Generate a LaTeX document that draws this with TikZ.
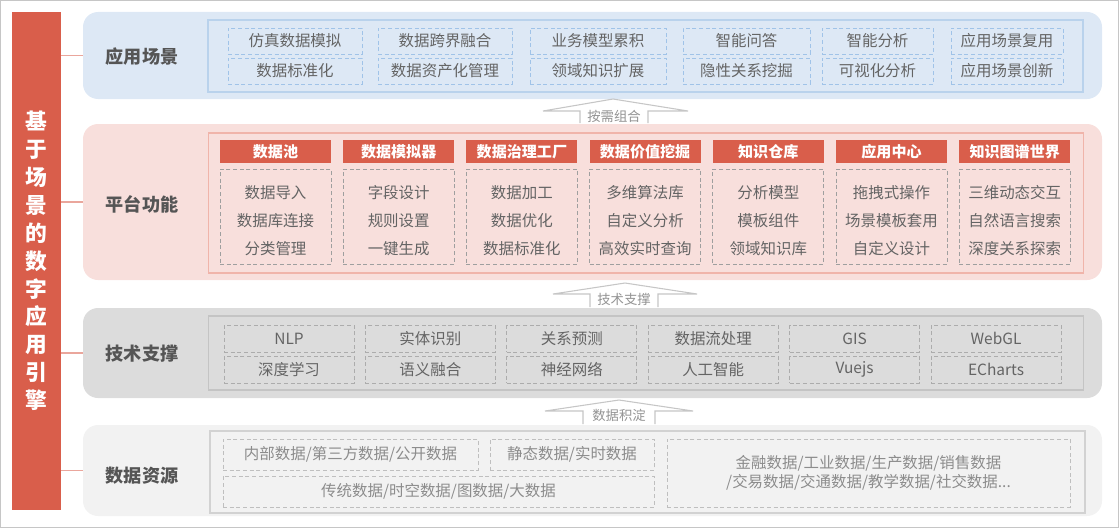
\documentclass[tikz,border=0pt]{standalone}
\usepackage{fontspec}
\setmainfont{Noto Sans CJK SC}
\usepackage{tikz}
\usetikzlibrary{calc}
\definecolor{eng}{RGB}{217,94,75}
\definecolor{appbg}{RGB}{221,232,245}
\definecolor{appln}{RGB}{185,210,236}
\definecolor{appdash}{RGB}{160,195,232}
\definecolor{platbg}{RGB}{248,223,220}
\definecolor{platln}{RGB}{240,180,170}
\definecolor{techbg}{RGB}{220,220,220}
\definecolor{techln}{RGB}{196,196,196}
\definecolor{databg}{RGB}{242,242,242}
\definecolor{dataln}{RGB}{210,210,210}
\definecolor{txt}{RGB}{100,100,100}
\definecolor{lbl}{RGB}{85,85,85}
\newlength{\upx}\setlength{\upx}{0.75pt}
\tikzset{
  bar/.style={rectangle,fill=eng,text=white,align=center,inner sep=0pt,
    minimum width=49\upx,minimum height=498\upx,
    font=\bfseries\fontsize{16.3}{20.9}\selectfont},
  layer/.style={rectangle,rounded corners=15\upx,minimum width=1019\upx,inner sep=0pt},
  inbox/.style={rectangle,draw,line width=1pt,minimum width=875\upx,inner sep=0pt},
  % dashed item cells
  cell/.style={rectangle,draw,dashed,dash pattern=on 3pt off 2pt,line width=0.6pt,
    inner sep=0pt,text=txt,align=center,font=\fontsize{11.6}{13}\selectfont},
  head/.style={rectangle,fill=eng,text=white,inner sep=0pt,
    minimum width=111\upx,minimum height=23\upx,
    font=\bfseries\fontsize{11.3}{13}\selectfont},
  tag/.style={text=lbl,font=\bfseries\fontsize{13.6}{15}\selectfont},
  tie/.style={draw=eng!55,line width=0.8pt},
  liftarrow/.style={draw=gray!45,fill=white,line width=0.8pt},
  liftlabel/.style={text=gray!85,inner sep=0pt,font=\fontsize{10}{11}\selectfont},
}
\begin{document}
\begin{tikzpicture}[x=0.75pt,y=-0.75pt]
\useasboundingbox (0,0) rectangle (1119,528);
\draw[draw=gray!45,line width=1pt] (0.7,0.7) rectangle (1118.3,527.3);

% engine bar
\node[bar] (bar) at (36.5,261) {基\\于\\场\\景\\的\\数\\字\\应\\用\\引\\擎};

% layer panels
\node[layer,fill=appbg,minimum height=87\upx] (app) at (592.5,55.5) {};
\node[layer,fill=platbg,minimum height=156\upx] (plat) at (592.5,202) {};
\node[layer,fill=techbg,minimum height=90\upx] (tech) at (592.5,353) {};
\node[layer,fill=databg,minimum height=91\upx] (data) at (592.5,470.5) {};

\draw[tie] (bar.east |- app.west) -- (app.west);
\draw[tie] (bar.east |- plat.west) -- (plat.west);
\draw[tie] (bar.east |- tech.west) -- (tech.west);
\draw[tie] (bar.east |- data.west) -- (data.west);

\node[tag] (appname) at (142,57) {应用场景};
\node[tag] (platname) at (142,204) {平台功能};
\node[tag] (techname) at (142,354) {技术支撑};
\node[tag] (dataname) at (142,476) {数据资源};

% application scenes
\node[inbox,draw=appln,minimum height=72\upx] (appin) at (645.5,56) {};
\tikzset{appcell/.style={cell,draw=appdash,minimum height=26\upx}}
\node[appcell,minimum width=134\upx] (s1) at (295,41) {仿真数据模拟};
\node[appcell,minimum width=134\upx] (s2) at (445,41) {数据跨界融合};
\node[appcell,minimum width=136\upx] (s3) at (598,41) {业务模型累积};
\node[appcell,minimum width=127\upx] (s4) at (746.5,41) {智能问答};
\node[appcell,minimum width=111\upx] (s5) at (877.5,41) {智能分析};
\node[appcell,minimum width=112\upx] (s6) at (1007,41) {应用场景复用};
\node[appcell,minimum width=134\upx] (s7) at (295,71) {数据标准化};
\node[appcell,minimum width=134\upx] (s8) at (445,71) {数据资产化管理};
\node[appcell,minimum width=136\upx] (s9) at (598,71) {领域知识扩展};
\node[appcell,minimum width=127\upx] (s10) at (746.5,71) {隐性关系挖掘};
\node[appcell,minimum width=111\upx] (s11) at (877.5,71) {可视化分析};
\node[appcell,minimum width=112\upx] (s12) at (1007,71) {应用场景创新};

% platform functions
\node[inbox,draw=platln,minimum height=140\upx] (platin) at (646,203) {};
\tikzset{platcell/.style={cell,draw=gray!75,minimum width=111\upx,minimum height=95\upx,
  font=\fontsize{11.6}{21}\selectfont}}
\newcommand{\lift}{\rule{0pt}{16pt}}
\node[head] (h1) at (275.5,151.5) {数据池};
\node[head] (h2) at (398.7,151.5) {数据模拟器};
\node[head] (h3) at (521.9,151.5) {数据治理工厂};
\node[head] (h4) at (645.1,151.5) {数据价值挖掘};
\node[head] (h5) at (768.3,151.5) {知识仓库};
\node[head] (h6) at (891.5,151.5) {应用中心};
\node[head] (h7) at (1014.7,151.5) {知识图谱世界};
\node[platcell] (f1) at (275.5,216.5) {\lift 数据导入\\数据库连接\\分类管理};
\node[platcell] (f2) at (398.7,216.5) {\lift 字段设计\\规则设置\\一键生成};
\node[platcell] (f3) at (521.9,216.5) {\lift 数据加工\\数据优化\\数据标准化};
\node[platcell] (f4) at (645.1,216.5) {\lift 多维算法库\\自定义分析\\高效实时查询};
\node[platcell] (f5) at (768.3,216.5) {\lift 分析模型\\模板组件\\领域知识库};
\node[platcell] (f6) at (891.5,216.5) {\lift 拖拽式操作\\场景模板套用\\自定义设计};
\node[platcell] (f7) at (1014.7,216.5) {\lift 三维动态交互\\自然语言搜索\\深度关系探索};

% technical support
\node[inbox,draw=techln,minimum height=74\upx] (techin) at (646,353) {};
\tikzset{techcell/.style={cell,draw=gray!65,minimum width=130\upx,minimum height=27\upx}}
\node[techcell] (t1) at (289,338.5) {NLP};
\node[techcell] (t2) at (430.4,338.5) {实体识别};
\node[techcell] (t3) at (571.8,338.5) {关系预测};
\node[techcell] (t4) at (713.2,338.5) {数据流处理};
\node[techcell] (t5) at (854.6,338.5) {GIS};
\node[techcell] (t6) at (996,338.5) {WebGL};
\node[techcell] (t7) at (289,369.5) {深度学习};
\node[techcell] (t8) at (430.4,369.5) {语义融合};
\node[techcell] (t9) at (571.8,369.5) {神经网络};
\node[techcell] (t10) at (713.2,369.5) {人工智能};
\node[techcell] (t11) at (854.6,369.5) {Vuejs};
\node[techcell] (t12) at (996,369.5) {ECharts};

% data resources
\node[inbox,draw=dataln,minimum height=82\upx] (datain) at (647.5,472) {};
\tikzset{datacell/.style={cell,draw=gray!50,text=gray!90,font=\fontsize{11.6}{14.3}\selectfont}}
\node[datacell,minimum width=255\upx,minimum height=31\upx] (d1) at (350.5,454.5) {内部数据/第三方数据/公开数据};
\node[datacell,minimum width=164\upx,minimum height=31\upx] (d2) at (572,454.5) {静态数据/实时数据};
\node[datacell,minimum width=431\upx,minimum height=31\upx] (d3) at (438.5,491.5) {传统数据/时空数据/图数据/大数据};
\node[datacell,minimum width=403\upx,minimum height=68\upx] (d4) at (868.5,473) {金融数据/工业数据/生产数据/销售数据\\/交易数据/交通数据/教学数据/社交数据...};

% lift arrows between layers
\draw[liftarrow] (580,123) -- (580,111) -- (543,111) -- (613,99) -- (688,111) -- (648,111) -- (648,123);
\node[liftlabel] (need) at (614,116) {按需组合};
\draw[liftarrow] (590,307) -- (590,294) -- (553,294) -- (625,283) -- (697,294) -- (658,294) -- (658,307);
\node[liftlabel] (prop) at (624,299) {技术支撑};
\draw[liftarrow] (583,424) -- (583,411) -- (545,411) -- (619,400) -- (693,411) -- (655,411) -- (655,424);
\node[liftlabel] (settle) at (619,415) {数据积淀};
\end{tikzpicture}
\end{document}
